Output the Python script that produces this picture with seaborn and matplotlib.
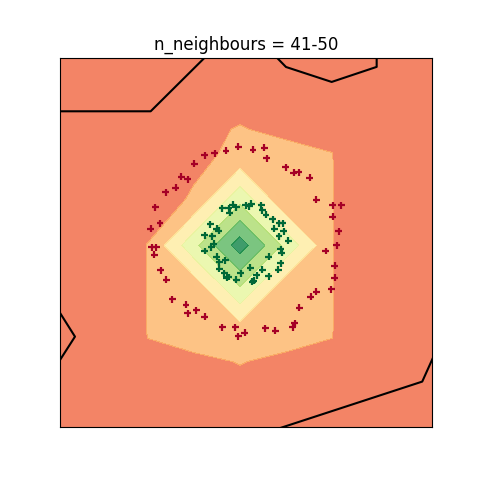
import numpy as np
import pandas as pd
import matplotlib
matplotlib.use("Agg")
import matplotlib.pyplot as plt
import seaborn as sns

title = "n_neighbours = 41-50"

# class-1 probability on a coarse mesh
grid_x = [-2.0, -1.05, -1.0, -0.5, 0.0, 0.5, 1.0, 1.05, 2.1]
grid_y = [-2.0, -1.5, -1.25, -1.0, -0.5, 0.0, 0.5, 1.0, 1.25, 1.5, 2.1]
proba = [
    [0.20, 0.20, 0.200, 0.200, 0.200, 0.200, 0.200, 0.20, 0.20],
    [0.20, 0.20, 0.200, 0.200, 0.200, 0.200, 0.200, 0.20, 0.20],
    [0.20, 0.20, 0.200, 0.200, 0.260, 0.200, 0.200, 0.20, 0.20],
    [0.20, 0.20, 0.249, 0.328, 0.260, 0.319, 0.249, 0.20, 0.20],
    [0.20, 0.20, 0.260, 0.260, 0.585, 0.260, 0.260, 0.20, 0.20],
    [0.20, 0.20, 0.252, 0.585, 0.940, 0.585, 0.260, 0.20, 0.20],
    [0.20, 0.20, 0.200, 0.260, 0.585, 0.260, 0.260, 0.20, 0.20],
    [0.20, 0.20, 0.200, 0.2255, 0.270, 0.309, 0.249, 0.20, 0.20],
    [0.20, 0.20, 0.200, 0.200, 0.262, 0.200, 0.200, 0.20, 0.20],
    [0.20, 0.20, 0.200, 0.200, 0.200, 0.200, 0.200, 0.20, 0.20],
    [0.20, 0.20, 0.200, 0.200, 0.200, 0.200, 0.200, 0.20, 0.20],
]
levels = [0.0, 0.125, 0.25, 0.375, 0.5, 0.625, 0.75, 0.875, 1.0]

# training points, outer ring (class 0) and inner ring (class 1)
red_x = [-0.02, 0.26, 0.14, -0.15, -0.27, -0.38, 0.29, -0.49, 0.49, 0.58,
         0.63, -0.63, -0.56, 0.75, -0.69, -0.80, 0.82, 1.00, 1.09, -0.91,
         1.00, -0.86, -0.96, 1.06, -0.95, -0.90, -0.92, 1.04, 0.92, 1.02,
         -0.85, -0.79, 1.02, 0.98, 0.82, 0.76, -0.73, -0.58, 0.64, -0.47,
         -0.56, -0.38, -0.19, -0.05, 0.27, 0.38, 0.59, 0.57, 0.05, -0.02]
red_y = [1.06, 1.05, 1.03, 1.02, 0.99, 0.97, 0.94, 0.88, 0.84, 0.78,
         0.79, 0.74, 0.71, 0.73, 0.62, 0.57, 0.49, 0.43, 0.43, 0.41,
         0.31, 0.24, 0.18, 0.15, -0.02, -0.02, -0.10, 0.00, -0.06, -0.22,
         -0.27, -0.37, -0.35, -0.47, -0.50, -0.55, -0.58, -0.64, -0.67, -0.70,
         -0.73, -0.77, -0.88, -0.88, -0.89, -0.92, -0.84, -0.88, -0.94, -0.98]
green_x = [-0.19, -0.12, -0.08, -0.04, -0.11, 0.06, 0.12, 0.10, 0.23, 0.24,
           0.28, 0.35, 0.42, 0.46, 0.37, 0.47, 0.42, 0.52, -0.32, -0.25,
           -0.23, -0.38, -0.30, -0.28, -0.31, -0.38, 0.44, 0.45, -0.25, 0.31,
           -0.22, -0.16, 0.44, 0.24, 0.41, 0.11, -0.22, 0.01, -0.17, -0.12,
           -0.14, 0.18, 0.15, 0.13, -0.04, 0.31]
green_y = [0.40, 0.40, 0.44, 0.41, 0.35, 0.43, 0.45, 0.42, 0.43, 0.38,
           0.33, 0.28, 0.24, 0.24, 0.18, 0.15, 0.10, 0.05, 0.23, 0.18,
           0.16, 0.11, 0.10, 0.02, -0.02, -0.06, -0.04, -0.08, -0.12, -0.12,
           -0.18, -0.16, -0.19, -0.26, -0.26, -0.24, -0.25, -0.30, -0.30, -0.34,
           -0.35, -0.32, -0.38, -0.39, -0.37, -0.33]

# black boundary pieces
edge_top_left_x = [-2.0, -0.96, -0.30]
edge_top_left_y = [1.444, 1.444, 2.10]
edge_top_right_x = [0.32, 0.495, 0.986, 1.47, 1.47]
edge_top_right_y = [2.10, 1.921, 1.760, 1.922, 2.10]
edge_left_x = [-2.0, -1.774, -2.0]
edge_left_y = [-0.623, -0.982, -1.335]
edge_bottom_right_x = [0.328, 1.960, 2.10]
edge_bottom_right_y = [-2.0, -1.466, -1.155]

xlim = (-1.935, 2.065)
ylim = (-1.957, 2.022)

cmap = plt.cm.RdYlGn

fig, ax = plt.subplots(figsize=(4.8, 4.8), dpi=100)
xx, yy = np.meshgrid(grid_x, grid_y)
ax.contourf(xx, yy, np.array(proba), levels=levels, cmap=cmap,
            vmin=0, vmax=1, alpha=0.8)

for bx, by in [(edge_top_left_x, edge_top_left_y),
               (edge_top_right_x, edge_top_right_y),
               (edge_left_x, edge_left_y),
               (edge_bottom_right_x, edge_bottom_right_y)]:
    ax.plot(bx, by, color="black", lw=1.5)

pts = pd.DataFrame({
    "x": red_x + green_x,
    "y": red_y + green_y,
    "label": [0] * len(red_x) + [1] * len(green_x),
})
sns.scatterplot(data=pts, x="x", y="y", hue="label",
                palette={0: cmap(0.0), 1: cmap(1.0)},
                marker="+", s=25, linewidth=1.6, legend=False, ax=ax)

ax.set_xlim(*xlim)
ax.set_ylim(*ylim)
ax.set_xticks([])
ax.set_yticks([])
ax.set_xlabel("")
ax.set_ylabel("")
ax.set_title(title)

fig.savefig("out.png", dpi=100)
plt.close(fig)
